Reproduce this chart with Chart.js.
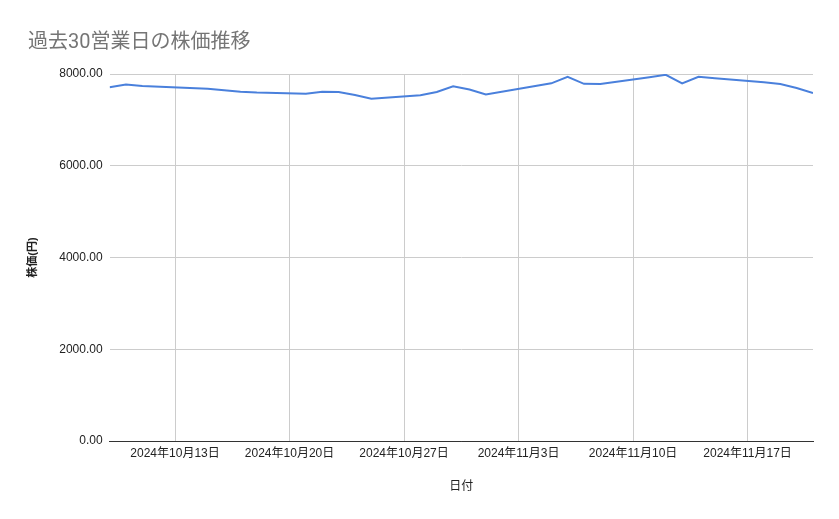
<!DOCTYPE html>
<html>
<head>
<meta charset="utf-8">
<script src="https://cdn.jsdelivr.net/npm/chart.js@4"></script>
<style>
  html, body { margin: 0; padding: 0; background: #fff; }
  #stock-chart { display: block; }
</style>
</head>
<body>
<canvas id="stock-chart" width="839" height="519"></canvas>
<script>
// 営業日と終値
const dates = [
    "2024-10-09", "2024-10-10", "2024-10-11", "2024-10-15", "2024-10-16",
    "2024-10-17", "2024-10-18", "2024-10-21", "2024-10-22", "2024-10-23",
    "2024-10-24", "2024-10-25", "2024-10-28", "2024-10-29", "2024-10-30",
    "2024-10-31", "2024-11-01", "2024-11-05", "2024-11-06", "2024-11-07",
    "2024-11-08", "2024-11-11", "2024-11-12", "2024-11-13", "2024-11-14",
    "2024-11-15", "2024-11-18", "2024-11-19", "2024-11-20", "2024-11-21",
];
const prices = [
    7710, 7771, 7738, 7680, 7645,
    7614, 7597, 7571, 7615, 7608,
    7542, 7462, 7536, 7608, 7734,
    7662, 7553, 7797, 7940, 7785,
    7780, 7927, 7983, 7797, 7941,
    7909, 7819, 7782, 7695, 7586,
];
// 目盛り (日曜日)
const tickDates = ["2024-10-13", "2024-10-20", "2024-10-27", "2024-11-03", "2024-11-10", "2024-11-17"];
const yTicks = [0, 2000, 4000, 6000, 8000];

const DAY = 86400000;
const start = Date.parse(dates[0]);
const toDay = (s) => Math.round((Date.parse(s) - start) / DAY);
const fmtDay = (d) => {
    const t = new Date(start + d * DAY);
    return t.getUTCFullYear() + "年" + (t.getUTCMonth() + 1) + "月" + t.getUTCDate() + "日";
};

const points = dates.map((d, i) => ({ x: toDay(d), y: prices[i] }));
const fontFamily = "'Liberation Sans', 'Noto Sans CJK JP', sans-serif";

const ctx = document.querySelector("#stock-chart");
new Chart(ctx, {
    type: "line",
    data: {
        datasets: [
            {
                label: "株価",
                data: points,
                borderColor: "#4a80dc",
                borderWidth: 2,
                pointRadius: 0,
                tension: 0,
            },
        ],
    },
    options: {
        responsive: false,
        animation: false,
        devicePixelRatio: 1,
        layout: {
            padding: { left: 28, right: 26, top: 0, bottom: 18 },
        },
        plugins: {
            legend: { display: false },
            tooltip: { enabled: false },
            title: {
                display: true,
                text: "過去30営業日の株価推移",
                align: "start",
                color: "#757575",
                font: { family: "Roboto, 'Noto Sans CJK JP', sans-serif", size: 20, weight: "normal" },
                padding: { top: 31, bottom: 19 },
            },
        },
        scales: {
            x: {
                type: "linear",
                min: 0,
                max: toDay(dates[dates.length - 1]),
                afterBuildTicks: (scale) => {
                    scale.ticks = tickDates.map((d) => ({ value: toDay(d) }));
                },
                afterFit: (scale) => {
                    scale.height = 60;
                },
                ticks: {
                    color: "#222",
                    font: { family: fontFamily, size: 12 },
                    padding: 5,
                    maxRotation: 0,
                    autoSkip: false,
                    callback: (v) => fmtDay(v),
                },
                grid: { color: "#cccccc", drawTicks: false },
                border: { color: "#333", width: 1 },
                title: {
                    display: true,
                    text: "日付",
                    color: "#222",
                    font: { family: fontFamily, size: 12 },
                    padding: { top: 4, bottom: 7 },
                },
            },
            y: {
                min: 0,
                max: 8000,
                afterBuildTicks: (scale) => {
                    scale.ticks = yTicks.map((v) => ({ value: v }));
                },
                afterFit: (scale) => {
                    scale.width = 81.6;
                },
                ticks: {
                    color: "#222",
                    font: { family: fontFamily, size: 12 },
                    padding: 7,
                    callback: (v) => v.toFixed(2),
                },
                grid: {
                    drawTicks: false,
                    color: (c) => (c.tick && c.tick.value === 0 ? "#333" : "#cccccc"),
                },
                border: { display: false },
                title: {
                    display: true,
                    text: "株価(円)",
                    color: "#222",
                    font: { family: fontFamily, size: 11, weight: "bold" },
                    padding: { top: -2, bottom: 4 },
                },
            },
        },
    },
});
</script>
</body>
</html>
